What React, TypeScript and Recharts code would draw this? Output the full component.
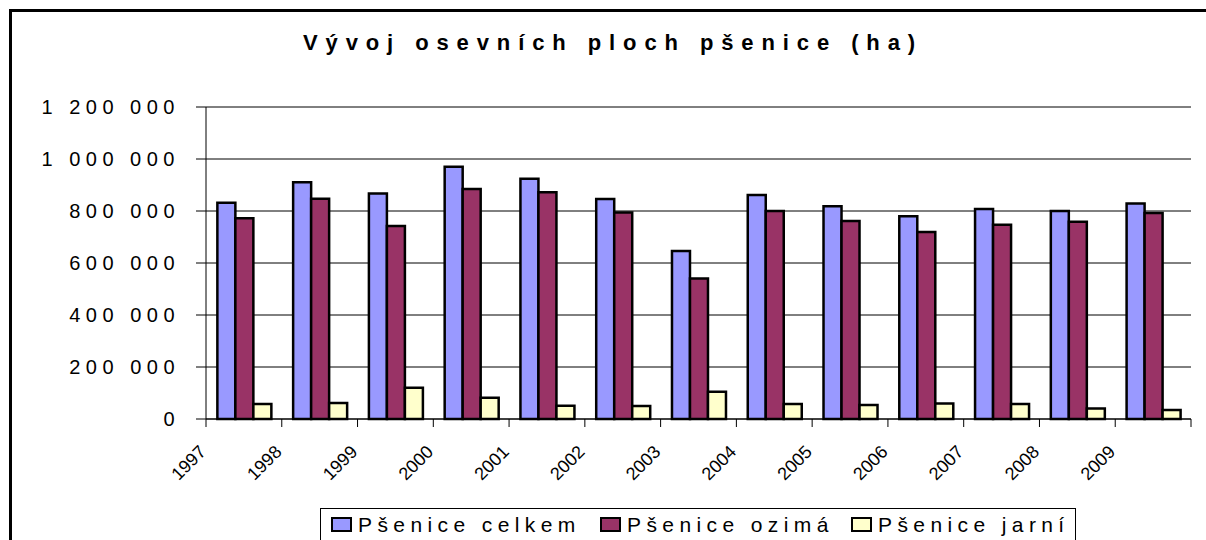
import React from 'react'
import {
  BarChart,
  Bar,
  XAxis,
  YAxis,
  CartesianGrid,
} from 'recharts'

const years = ['1997', '1998', '1999', '2000', '2001', '2002', '2003', '2004', '2005', '2006', '2007', '2008', '2009']
const celkem = [832000, 911000, 867000, 970000, 924000, 846000, 646000, 862000, 818000, 780000, 808000, 800000, 829000]
const ozima = [772000, 847000, 742000, 885000, 872000, 794000, 540000, 800000, 762000, 719000, 747000, 759000, 792000]
const jarni = [58000, 62000, 120000, 82000, 51000, 50000, 105000, 58000, 54000, 60000, 58000, 40000, 35000]
const yTicks = [0, 200000, 400000, 600000, 800000, 1000000, 1200000]

const seriesNames = ['Pšenice celkem', 'Pšenice ozimá', 'Pšenice jarní']
const colors = ['#9999FF', '#993366', '#FFFFCC']

const data = years.map((year, i) => ({
  year,
  celkem: celkem[i],
  ozima: ozima[i],
  jarni: jarni[i],
}))

const W = 1206
const H = 540
const plotLeft = 206
const plotRight = 1191
const plotTop = 107
const plotBottom = 419
const band = (plotRight - plotLeft) / years.length

const fmt = (v: number) => v.toLocaleString('en-US').replace(/,/g, ' ')

const YTick = (props: any) => {
  const { y, payload } = props
  return (
    <text
      x={180}
      y={y}
      dy={7}
      textAnchor="end"
      fontFamily="Arial, 'Liberation Sans', sans-serif"
      fontSize={20}
      letterSpacing={5.5}
      fill="#000"
    >
      {fmt(payload.value)}
    </text>
  )
}

// Excel-style category axis: tick marks and labels sit on the category boundaries
const XTick = (props: any) => {
  const { x, payload, index } = props
  const bx = x - band / 2
  const ax = bx + 1
  const ay = plotBottom + 34
  return (
    <g>
      <line x1={bx} y1={plotBottom} x2={bx} y2={plotBottom + 8} stroke="#000" />
      {index === years.length - 1 && (
        <line x1={bx + band} y1={plotBottom} x2={bx + band} y2={plotBottom + 8} stroke="#000" />
      )}
      <text
        x={ax}
        y={ay}
        textAnchor="end"
        transform={`rotate(-45, ${ax}, ${ay})`}
        fontFamily="Arial, 'Liberation Sans', sans-serif"
        fontSize={18}
        fill="#000"
      >
        {payload.value}
      </text>
    </g>
  )
}

export default function App() {
  const legendLefts = [10, 279, 530]
  return (
    <div style={{ position: 'absolute', left: 0, top: 0, width: W, height: H, overflow: 'hidden', background: '#fff' }}>
      {/* outer frame (only top and left edges are visible) */}
      <div style={{ position: 'absolute', left: 9, top: 9, width: W + 20, height: H + 20, border: '3px solid #000' }} />

      {/* title */}
      <div
        style={{
          position: 'absolute',
          left: 0,
          width: W,
          top: 28,
          textAlign: 'center',
          fontFamily: "Arial, 'Liberation Sans', sans-serif",
          fontWeight: 'bold',
          fontSize: 22,
          letterSpacing: 7.9,
          lineHeight: '30px',
          paddingLeft: 20,
          boxSizing: 'border-box',
        }}
      >
        Vývoj osevních ploch pšenice (ha)
      </div>

      <div style={{ position: 'absolute', left: 0, top: 0 }}>
        <BarChart
          width={W}
          height={H}
          data={data}
          margin={{ top: plotTop, right: W - plotRight, bottom: 0, left: 6 }}
          barCategoryGap="15%"
          barGap={0}
        >
          <CartesianGrid vertical={false} stroke="#000" strokeWidth={1} />
          <XAxis
            dataKey="year"
            height={H - plotBottom}
            axisLine={{ stroke: '#000' }}
            tickLine={false}
            interval={0}
            tick={<XTick />}
          />
          <YAxis
            width={200}
            domain={[0, 1200000]}
            ticks={yTicks}
            interval={0}
            axisLine={{ stroke: '#000' }}
            tickLine={{ stroke: '#000' }}
            tickSize={10}
            tick={<YTick />}
          />
          <YAxis
            yAxisId="r"
            orientation="right"
            width={0}
            domain={[0, 1200000]}
            tick={false}
            tickLine={false}
            axisLine={{ stroke: '#888' }}
          />
          <Bar dataKey="celkem" name={seriesNames[0]} fill={colors[0]} stroke="#000" strokeWidth={2.5} isAnimationActive={false} />
          <Bar dataKey="ozima" name={seriesNames[1]} fill={colors[1]} stroke="#000" strokeWidth={2.5} isAnimationActive={false} />
          <Bar dataKey="jarni" name={seriesNames[2]} fill={colors[2]} stroke="#000" strokeWidth={2.5} isAnimationActive={false} />
        </BarChart>
      </div>

      {/* legend */}
      <div
        style={{
          position: 'absolute',
          left: 320,
          top: 508,
          width: 756,
          height: 40,
          border: '1px solid #000',
          boxSizing: 'border-box',
          background: '#fff',
        }}
      >
        {seriesNames.map((name, i) => (
          <div
            key={name}
            style={{
              position: 'absolute',
              left: legendLefts[i],
              top: 0,
              height: 31,
              display: 'flex',
              alignItems: 'center',
              whiteSpace: 'nowrap',
            }}
          >
            <span
              style={{
                display: 'inline-block',
                width: 17,
                height: 11,
                background: colors[i],
                border: '2px solid #000',
                marginRight: 6,
              }}
            />
            <span
              style={{
                fontFamily: "Arial, 'Liberation Sans', sans-serif",
                fontSize: 21,
                letterSpacing: 5.4,
                lineHeight: '24px',
              }}
            >
              {name}
            </span>
          </div>
        ))}
      </div>
    </div>
  )
}
